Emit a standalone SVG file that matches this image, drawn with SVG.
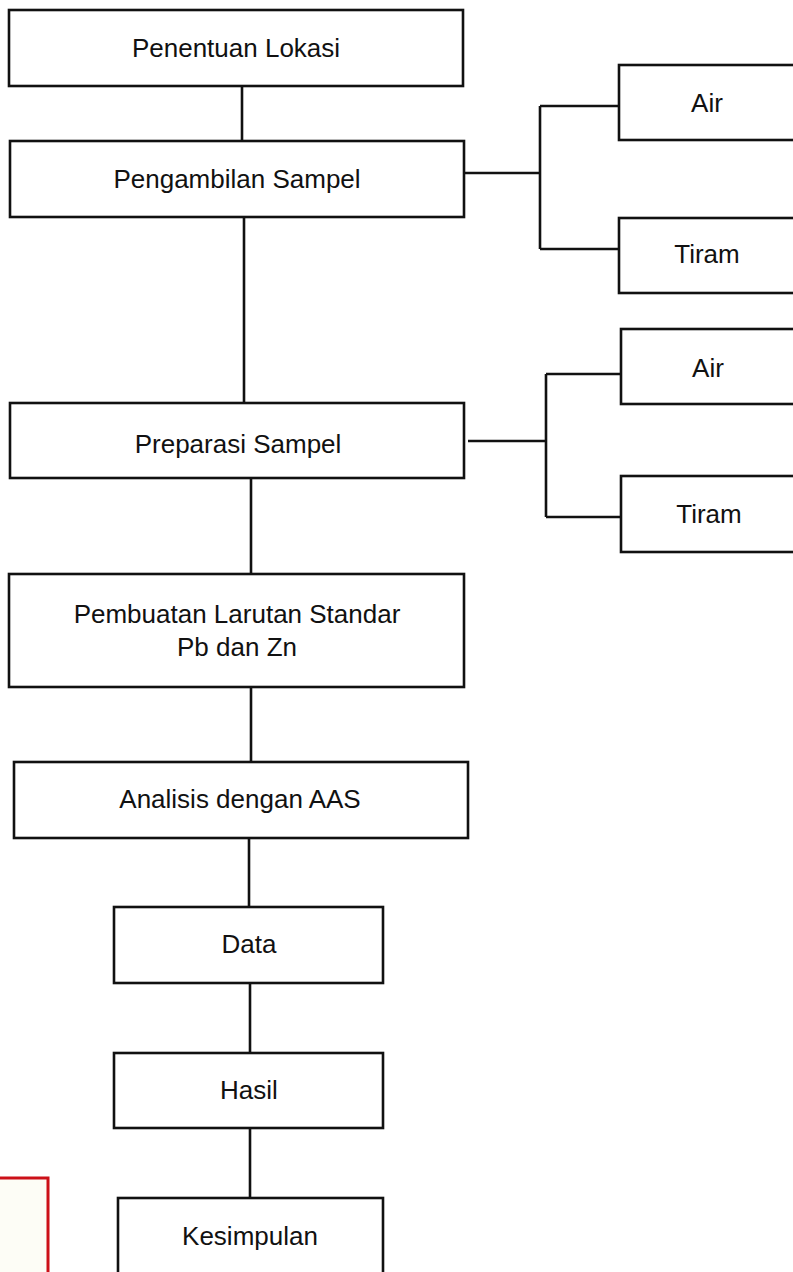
<svg xmlns="http://www.w3.org/2000/svg" width="793" height="1272" viewBox="0 0 793 1272">
<style>
.box{fill:#fff;stroke:#111;stroke-width:2.6}
.t{font-family:"Liberation Sans",Arial,sans-serif;font-size:26px;fill:#111;text-anchor:middle}
.c{fill:none;stroke:#111;stroke-width:2.6}
</style>
<rect width="793" height="1272" fill="#fff"/>
<g id="connectors">
<path class="c" d="M242 86V141"/>
<path class="c" d="M244 217V403"/>
<path class="c" d="M251 478V574"/>
<path class="c" d="M251 687V762"/>
<path class="c" d="M249 838V907"/>
<path class="c" d="M250 983V1053"/>
<path class="c" d="M250 1128V1198"/>
<path class="c" d="M464 173H540M540 106V249M540 106H619M540 249H619"/>
<path class="c" d="M468 441H546M546 374V517M546 374H621M546 517H621"/>
</g>
<g id="n1"><rect class="box" x="9" y="10" width="454" height="76"/><text class="t" x="236" y="57">Penentuan Lokasi</text></g>
<g id="n2"><rect class="box" x="10" y="141" width="454" height="76"/><text class="t" x="237" y="188">Pengambilan Sampel</text></g>
<g id="n2a"><rect class="box" x="619" y="65" width="200" height="75"/><text class="t" x="707" y="112">Air</text></g>
<g id="n2b"><rect class="box" x="619" y="218" width="200" height="75"/><text class="t" x="707" y="263">Tiram</text></g>
<g id="n3"><rect class="box" x="10" y="403" width="454" height="75"/><text class="t" x="238" y="453">Preparasi Sampel</text></g>
<g id="n3a"><rect class="box" x="621" y="329" width="200" height="75"/><text class="t" x="708" y="377">Air</text></g>
<g id="n3b"><rect class="box" x="621" y="476" width="200" height="76"/><text class="t" x="709" y="523">Tiram</text></g>
<g id="n4"><rect class="box" x="9" y="574" width="455" height="113"/><text class="t" x="237" y="623">Pembuatan Larutan Standar</text><text class="t" x="237" y="656">Pb dan Zn</text></g>
<g id="n5"><rect class="box" x="14" y="762" width="454" height="76"/><text class="t" x="240" y="808">Analisis dengan AAS</text></g>
<g id="n6"><rect class="box" x="114" y="907" width="269" height="76"/><text class="t" x="249" y="953">Data</text></g>
<g id="n7"><rect class="box" x="114" y="1053" width="269" height="75"/><text class="t" x="249" y="1099">Hasil</text></g>
<g id="n8"><rect class="box" x="118" y="1198" width="265" height="90"/><text class="t" x="250" y="1245">Kesimpulan</text></g>
<g id="red"><rect x="-10" y="1178" width="58" height="110" fill="#fdfdf6" stroke="#cc1018" stroke-width="3"/></g>
</svg>
